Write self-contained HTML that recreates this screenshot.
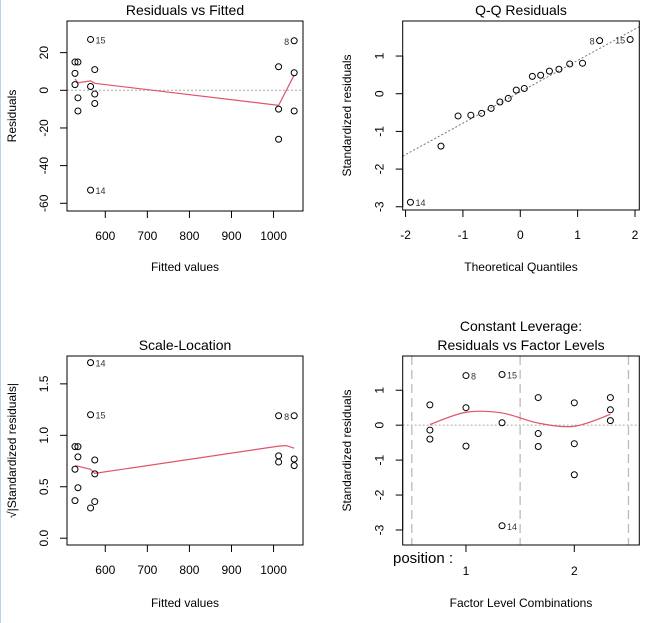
<!DOCTYPE html>
<html><head><meta charset="utf-8">
<style>
html,body{margin:0;padding:0;background:#fff;}
svg{display:block;font-family:"Liberation Sans",Arial,sans-serif;}
</style></head>
<body>
<svg id="chart" width="651" height="623" viewBox="0 0 651 623" xmlns="http://www.w3.org/2000/svg">
<rect x="0" y="0" width="651" height="623" fill="#fff"/>
<line x1="0.5" y1="0" x2="0.5" y2="623" stroke="#b8d2f0" stroke-width="1"/>
</svg>
<script>
// ---- Panel 1: Residuals vs Fitted ----
const rvfFitted = [528,535,528,528,535,535,565,575,565,575,575,565,1012,1012,1012,1049,1049,1049];
const rvfResid  = [15,15,9,3,-4,-11,27,11,2,-2,-7,-53,12.5,-10,-26,26.3,9.3,-11];
const rvfSmoothX = [528,535,565,575,1012,1049];
const rvfSmoothY = [6,4,5,3.7,-8,8.1];
const rvfXTicks = [600,700,800,900,1000];
const rvfYTicks = [-60,-40,-20,0,20];
// ---- Panel 2: Q-Q ----
const qqTheo = [-1.915,-1.383,-1.085,-0.862,-0.674,-0.508,-0.355,-0.210,-0.070,0.070,0.210,0.355,0.508,0.674,0.862,1.085,1.383,1.915];
const qqStd  = [-2.88,-1.39,-0.59,-0.57,-0.52,-0.39,-0.22,-0.125,0.096,0.14,0.46,0.49,0.60,0.65,0.79,0.81,1.41,1.44];
const qqLineIntercept = 0.05;
const qqLineSlope = 0.833;
const qqXTicks = [-2,-1,0,1,2];
const qqYTicks = [-3,-2,-1,0,1];
// ---- Panel 3: Scale-Location ----
const slFitted = [565,565,1012,1049,528,535,535,575,528,575,535,528,575,565,1012,1012,1049,1049];
const slSqrt   = [1.706,1.20,1.19,1.19,0.89,0.89,0.79,0.76,0.67,0.625,0.49,0.365,0.356,0.294,0.80,0.74,0.77,0.705];
const slSmoothX = [528,535,565,575,1012,1030,1049];
const slSmoothY = [0.705,0.70,0.67,0.63,0.895,0.90,0.875];
const slXTicks = [600,700,800,900,1000];
const slYTicks = [0,0.5,1,1.5];
const slYLabels = ["0.0","0.5","1.0","1.5"];
// ---- Panel 4: Constant leverage ----
const clPos = [0.667,0.667,0.667,1,1,1,1.333,1.333,1.333,1.667,1.667,1.667,2,2,2,2.333,2.333,2.333];
const clStd = [0.58,-0.14,-0.40,1.42,0.50,-0.60,1.45,0.07,-2.88,0.79,-0.24,-0.61,0.64,-0.53,-1.42,0.79,0.44,0.13];
const clSmoothX = [0.667,1,1.333,1.667,2,2.333];
const clSmoothY = [0.02,0.37,0.35,0.06,-0.03,0.31];
const clDividers = [0.5,1.5,2.5];
const clXTicks = [1,2];
const clYTicks = [-3,-2,-1,0,1];

const NS = "http://www.w3.org/2000/svg";
const svg = document.getElementById('chart');
function mk(tag, attrs, parent){
  const e = document.createElementNS(NS, tag);
  for (const k in attrs) e.setAttribute(k, attrs[k]);
  (parent||svg).appendChild(e);
  return e;
}
function txt(parent, x, y, s, size, anchor, rot){
  const t = mk('text', {x:x, y:y, 'font-size':size, 'text-anchor':anchor||'middle', fill:'#000'}, parent);
  if (rot) t.setAttribute('transform', 'rotate(-90 '+x+' '+y+')');
  t.textContent = s;
  return t;
}
function scale(d0,d1,r0,r1){ return v => r0 + (v-d0)/(d1-d0)*(r1-r0); }

function panel(cfg){
  const g = mk('g', {});
  
  
  const sx = scale(cfg.xd[0], cfg.xd[1], cfg.box[0], cfg.box[2]);
  const sy = scale(cfg.yd[0], cfg.yd[1], cfg.box[3], cfg.box[1]);
  const [L,T,R,B] = cfg.box;
  // extras (dividers / zero line)
  if (cfg.zero){
    const z = mk('line', {x1:L, x2:R, y1:sy(0), y2:sy(0), stroke:'#aaa', 'stroke-width':1, 'stroke-dasharray':'2,2'}, g);
    
    
  }
  if (cfg.dividers){
    cfg.dividers.forEach(d => {
      const l = mk('line', {x1:sx(d), x2:sx(d), y1:T, y2:B, stroke:'#bbb', 'stroke-width':1.3, 'stroke-dasharray':'9,5'}, g);
      
      
    });
  }
  if (cfg.abline){
    const [a,b] = cfg.abline;
    const l = mk('line', {x1:L, y1:sy(a+b*cfg.xd[0]), x2:R, y2:sy(a+b*cfg.xd[1]), stroke:'#777', 'stroke-width':1, 'stroke-dasharray':'2,2'}, g);
    
    
  }
  // clip box
  const box = mk('rect', {x:L, y:T, width:R-L, height:B-T, fill:'none', stroke:'#000', 'stroke-width':1}, g);
  
  
  // smooth line
  if (cfg.sx){
    let d;
    const px = cfg.sx.map(sx), py = cfg.sy.map(sy);
    if (cfg.curve){
      d = 'M'+px[0]+','+py[0];
      for (let i=0;i<px.length-1;i++){
        const x0=px[Math.max(0,i-1)], y0=py[Math.max(0,i-1)];
        const x3=px[Math.min(px.length-1,i+2)], y3=py[Math.min(px.length-1,i+2)];
        const c1x=px[i]+(px[i+1]-x0)/6, c1y=py[i]+(py[i+1]-y0)/6;
        const c2x=px[i+1]-(x3-px[i])/6, c2y=py[i+1]-(y3-py[i])/6;
        d += ' C'+c1x+','+c1y+' '+c2x+','+c2y+' '+px[i+1]+','+py[i+1];
      }
    } else {
      d = 'M' + px.map((x,i)=>x+','+py[i]).join(' L');
    }
    const p = mk('path', {d:d, fill:'none', stroke:'#df536b', 'stroke-width':1.2}, g);
    
    
  }
  // points
  cfg.px.forEach((x,i) => {
    const c = mk('circle', {cx:sx(x), cy:sy(cfg.py[i]), r:3, fill:'none', stroke:'#000', 'stroke-width':1}, g);
    
    
  });
  // point labels
  (cfg.labels||[]).forEach(lb => {
    const x = sx(cfg.px[lb[0]]), y = sy(cfg.py[lb[0]]);
    const t = txt(g, lb[2]==='l' ? x-5 : x+5, y+4, lb[1], 9, lb[2]==='l'?'end':'start');
    t.setAttribute('fill', '#333');
    
    
  });
  // x ticks
  const xl = mk('line', {x1:sx(cfg.xt[0]), x2:sx(cfg.xt[cfg.xt.length-1]), y1:B, y2:B, stroke:'#000'}, g);
  
  
  cfg.xt.forEach(v => {
    mk('line', {x1:sx(v), x2:sx(v), y1:B, y2:B+7, stroke:'#000'}, g);
    const t = txt(g, sx(v), B+cfg.xlOff, String(v), 12);
    
    
  });
  // y ticks
  const yl = mk('line', {x1:L, x2:L, y1:sy(cfg.yt[0]), y2:sy(cfg.yt[cfg.yt.length-1]), stroke:'#000'}, g);
  
  
  cfg.yt.forEach((v,i) => {
    mk('line', {x1:L-7, x2:L, y1:sy(v), y2:sy(v), stroke:'#000'}, g);
    const t = txt(g, L-19, sy(v), cfg.ytl ? cfg.ytl[i] : String(v), 12, 'middle', true);
    
    
  });
  // titles
  cfg.title.forEach((s,i) => {
    const t = txt(g, (L+R)/2, cfg.titleY + i*19, s, 14);
    
    
  });
  const xt = txt(g, (L+R)/2, cfg.xlabY, cfg.xlab, 12);
  
  
  const yt = txt(g, cfg.ylabX, (T+B)/2, cfg.ylab, 12, 'middle', true);
  
  
  return g;
}

panel({name:'residuals-vs-fitted-panel', box:[67,21,303,211], xd:[509,1070], yd:[-64.1,36.8],
  px:rvfFitted, py:rvfResid, sx:rvfSmoothX, sy:rvfSmoothY, zero:true,
  labels:[[6,'15'],[11,'14'],[15,'8','l']], xt:rvfXTicks, yt:rvfYTicks, xlOff:29,
  title:['Residuals vs Fitted'], titleY:15, xlab:'Fitted values', xlabY:271, ylab:'Residuals', ylabX:16});

panel({name:'qq-residuals-panel', box:[402.7,21,639.3,210], xd:[-2.05,2.075], yd:[-3.086,1.93],
  px:qqTheo, py:qqStd, abline:[qqLineIntercept,qqLineSlope],
  labels:[[0,'14'],[16,'8','l'],[17,'15','l']], xt:qqXTicks, yt:qqYTicks, xlOff:29,
  title:['Q-Q Residuals'], titleY:15, xlab:'Theoretical Quantiles', xlabY:271, ylab:'Standardized residuals', ylabX:351});

panel({name:'scale-location-panel', box:[67,356,303,545], xd:[509,1070], yd:[-0.0661,1.7707],
  px:slFitted, py:slSqrt, sx:slSmoothX, sy:slSmoothY,
  labels:[[0,'14'],[1,'15'],[3,'8','l']], xt:slXTicks, yt:slYTicks, ytl:slYLabels, xlOff:29,
  title:['Scale-Location'], titleY:350, xlab:'Fitted values', xlabY:607, ylab:'\u221A|Standardized residuals|', ylabX:16});

panel({name:'constant-leverage-panel', box:[402.7,356,639.3,545], xd:[0.416,2.6], yd:[-3.43,1.98],
  px:clPos, py:clStd, sx:clSmoothX, sy:clSmoothY, curve:true, zero:true, dividers:clDividers,
  labels:[[3,'8'],[6,'15'],[8,'14']], xt:clXTicks, yt:clYTicks, xlOff:30,
  title:['Constant Leverage:','Residuals vs Factor Levels'], titleY:331, xlab:'Factor Level Combinations', xlabY:607, ylab:'Standardized residuals', ylabX:351});

const pos = txt(svg, 393, 563, 'position :', 15, 'start');


</script>
</body></html>
